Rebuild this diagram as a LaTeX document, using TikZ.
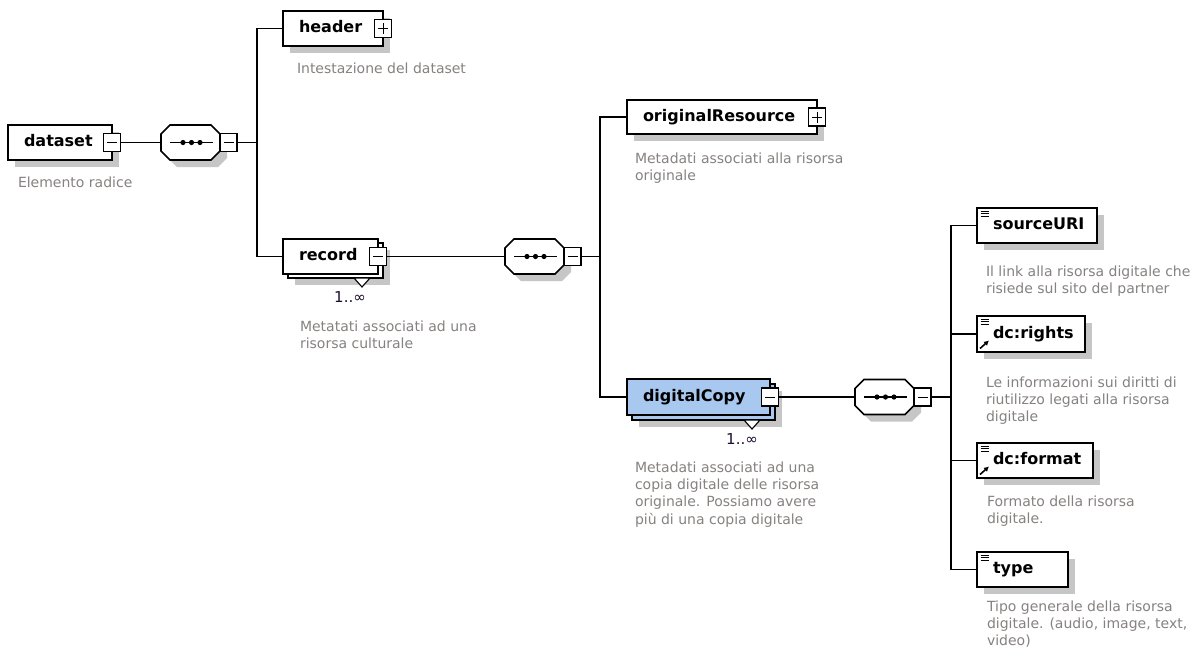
\documentclass[tikz,border=0pt]{standalone}
\usepackage{fontspec}
\setmainfont{DejaVu Sans}
\usetikzlibrary{shadows,calc,arrows.meta}

\definecolor{shadowgray}{RGB}{198,198,198}
\definecolor{desctext}{RGB}{134,130,128}
\definecolor{selblue}{RGB}{168,200,240}
\definecolor{multtext}{RGB}{30,12,48}

\tikzset{
  every node/.style={outer sep=0pt},
  boxshadow/.style={drop shadow={shadow xshift=7pt,shadow yshift=-7pt,opacity=1,fill=shadowgray}},
  elem/.style={draw=black, line width=1.6pt, fill=white, anchor=north west,
    inner xsep=16pt, inner ysep=0pt, align=left, minimum height=35pt,
    font=\fontsize{16}{18}\selectfont\bfseries, text height=11.5pt, text depth=3.5pt},
  togglebox/.style={draw=black, line width=1.2pt, fill=white, minimum width=17pt,
    minimum height=18pt, inner sep=0pt},
  minusbox/.style={togglebox, path picture={
    \draw[line width=1pt] ([xshift=3.5pt]path picture bounding box.west) -- ([xshift=-3.5pt]path picture bounding box.east);}},
  plusbox/.style={togglebox, path picture={
    \draw[line width=1pt] ([xshift=3.5pt]path picture bounding box.west) -- ([xshift=-3.5pt]path picture bounding box.east)
      ([yshift=-3.5pt]path picture bounding box.north) -- ([yshift=3.5pt]path picture bounding box.south);}},
  seqanchor/.style={rectangle, draw=none, minimum width=59pt, minimum height=35pt,
    inner sep=0pt, anchor=west},
  seqline/.style={fill=white, draw=black, line width=1.6pt, line join=miter},
  desc/.style={anchor=north west, inner sep=0pt, align=left, text=desctext,
    font=\fontsize{14}{17.3}\selectfont},
  multlabel/.style={inner sep=0pt, text=multtext, font=\fontsize{15}{17}\selectfont},
  conn/.style={line width=1.6pt},
  tri/.style={draw=black, line width=1.1pt, fill=white, line join=miter},
  simpleicon/.style={line width=0.9pt},
  refarrow/.style={line width=1.6pt, -{Latex[length=5pt,width=5.5pt]}}
}

% octagonal sequence compositor drawn over a named anchor node
\newcommand\drawseq[1]{%
  \fill[shadowgray] ($(#1.north west)+(16,7)$) -- ($(#1.north east)+(-2,7)$)
    -- ($(#1.north east)+(7,16)$) -- ($(#1.south east)+(7,-2)$)
    -- ($(#1.south east)+(-2,7)$) -- ($(#1.south west)+(16,7)$)
    -- ($(#1.south west)+(7,-2)$) -- ($(#1.north west)+(7,16)$) -- cycle;
  \filldraw[seqline] ($(#1.north west)+(9,0)$) -- ($(#1.north east)+(-9,0)$)
    -- ($(#1.north east)+(0,9)$) -- ($(#1.south east)+(0,-9)$)
    -- ($(#1.south east)+(-9,0)$) -- ($(#1.south west)+(9,0)$)
    -- ($(#1.south west)+(0,-9)$) -- ($(#1.north west)+(0,9)$) -- cycle;
  \draw[line width=1.2pt] ($(#1.west)+(9,0)$) -- ($(#1.east)+(-7,0)$);
  \fill ($(#1.center)+(-7.5,0)$) circle (2.6pt)
        ($(#1.center)+(1,0)$) circle (2.6pt)
        ($(#1.center)+(9.5,0)$) circle (2.6pt);
}

\begin{document}
\begin{tikzpicture}[x=1pt,y=-1pt]
\fill[white] (0,0) rectangle (1200,657);
\useasboundingbox (0,0) rectangle (1200,657);

% root element and its sequence
\node[elem, boxshadow, text width=72pt] (dataset) at (8,125) {dataset};
\node[minusbox] (datasetminus) at (dataset.east) {};
\node[seqanchor] (seqone) at (161,142.5) {};
\drawseq{seqone}
\node[minusbox, anchor=west] (seqoneminus) at (seqone.east) {};

% header
\node[elem, boxshadow, text width=68pt] (header) at (283,11) {header};
\node[plusbox] (headerplus) at (header.east) {};

% record (repeated element)
\node[elem, boxshadow, text width=63pt] (recordcopy) at (288,243) {};
\node[elem, text width=63pt] (record) at (283,239) {record};
\node[minusbox] (recordminus) at (record.east) {};
\draw[tri] (354,278) -- (370,278) -- (362,287) -- cycle;
\node[multlabel] (recordmult) at (350,297) {1..∞};

\node[seqanchor] (seqtwo) at (505,256.5) {};
\drawseq{seqtwo}
\node[minusbox, anchor=west] (seqtwominus) at (seqtwo.east) {};

% originalResource
\node[elem, boxshadow, text width=158pt, minimum height=34pt] (origres) at (627,100) {originalResource};
\node[plusbox] (origresplus) at (origres.east) {};

% digitalCopy (repeated, selected)
\node[elem, boxshadow, fill=selblue, text width=111pt, minimum height=36pt] (digitalcopycopy) at (632,384) {};
\node[elem, fill=selblue, text width=111pt, minimum height=36pt] (digitalcopy) at (627,379) {digitalCopy};
\node[minusbox] (digitalcopyminus) at (digitalcopy.east) {};
\draw[tri] (744,420) -- (760,420) -- (752,429) -- cycle;
\node[multlabel] (digitalcopymult) at (742,439) {1..∞};

\node[seqanchor] (seqthree) at (855,397) {};
\drawseq{seqthree}
\node[minusbox, anchor=west] (seqthreeminus) at (seqthree.east) {};

% leaf elements
\node[elem, boxshadow, text width=88pt] (sourceuri) at (977,208) {sourceURI};
\node[elem, boxshadow, text width=76pt, minimum height=36pt] (dcrights) at (977,316) {dc:rights};
\node[elem, boxshadow, text width=84pt] (dcformat) at (977,443) {dc:format};
\node[elem, boxshadow, text width=59pt] (typeelem) at (977,552) {type};

% simple-content marks and reference arrows
\foreach \n in {sourceuri,dcrights,dcformat,typeelem}{
  \draw[simpleicon] ($(\n.north west)+(3.5,3)$) -- +(8pt,0)
                    ($(\n.north west)+(3.5,5.5)$) -- +(8pt,0)
                    ($(\n.north west)+(3.5,8)$) -- +(8pt,0);
}
\foreach \n in {dcrights,dcformat}{
  \draw[refarrow] ($(\n.south west)+(3,-3.5)$) -- ($(\n.south west)+(12,-11.5)$);
}

% connectors
\draw[conn] (datasetminus.east) -- (seqone.west);
\coordinate (jone) at (257,142.5);
\draw[conn] (seqoneminus.east) -- (jone);
\draw[conn] (header.west) -| (jone) |- (record.west);

\draw[conn] (recordminus.east) -- (seqtwo.west);
\coordinate (jtwo) at (600,256.5);
\draw[conn] (seqtwominus.east) -- (jtwo);
\draw[conn] (origres.west) -| (jtwo) |- (digitalcopy.west);

\draw[conn] (digitalcopyminus.east) -- (seqthree.west);
\coordinate (jthree) at (951,397);
\draw[conn] (seqthreeminus.east) -- (jthree);
\draw[conn] (sourceuri.west) -| (jthree) |- (typeelem.west);
\draw[conn] (dcrights.west) -- (dcrights.west -| jthree);
\draw[conn] (dcformat.west) -- (dcformat.west -| jthree);

% annotations
\node[desc] (datasetdesc) at (18,176.5) {Elemento radice};
\node[desc] (headerdesc) at (297,62.5) {Intestazione del dataset};
\node[desc] (recorddesc) at (300,320.5) {Metatati associati ad una\\risorsa culturale};
\node[desc] (origresdesc) at (635,152.5) {Metadati associati alla risorsa\\originale};
\node[desc] (digitalcopydesc) at (635,461.5) {Metadati associati ad una\\copia digitale delle risorsa\\originale. Possiamo avere\\più di una copia digitale};
\node[desc] (sourceuridesc) at (986,265.5) {Il link alla risorsa digitale che\\risiede sul sito del partner};
\node[desc] (dcrightsdesc) at (986,376.5) {Le informazioni sui diritti di\\riutilizzo legati alla risorsa\\digitale};
\node[desc] (dcformatdesc) at (987,495.5) {Formato della risorsa\\digitale.};
\node[desc] (typedesc) at (987,600.5) {Tipo generale della risorsa\\digitale. (audio, image, text,\\video)};
\end{tikzpicture}
\end{document}
